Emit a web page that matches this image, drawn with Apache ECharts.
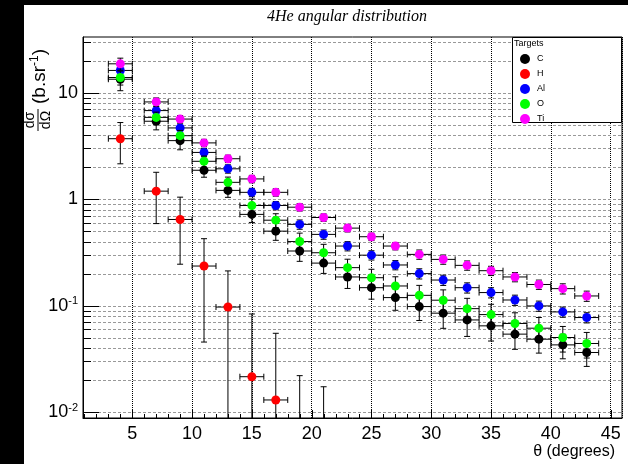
<!DOCTYPE html>
<html>
<head>
<meta charset="utf-8">
<script src="https://cdn.jsdelivr.net/npm/echarts@6/dist/echarts.min.js"></script>
<style>
html, body { margin: 0; padding: 0; background: #fff; overflow: hidden; }
#chart { width: 628px; height: 464px; }
</style>
</head>
<body>
<div id="chart"></div>
<script>
// bin centres in degrees (each bin is +-1 degree wide)
var angles = [4, 7, 9, 11, 13, 15, 17, 19, 21, 23, 25, 27, 29, 31, 33, 35, 37, 39, 41, 43];
var xHalfWidth = 1;

// dsigma/dOmega (b/sr), with relative errors
var cVals  = [13.4, 5.4, 3.55, 1.87, 1.21, 0.72, 0.501, 0.326, 0.251, 0.186, 0.1475, 0.119, 0.098, 0.085, 0.0734, 0.0646, 0.054, 0.0484, 0.0428, 0.0363];
var cErr   = [0.22, 0.17, 0.18, 0.14, 0.14, 0.16, 0.18, 0.2, 0.2, 0.22, 0.22, 0.24, 0.26, 0.28, 0.3, 0.28, 0.28, 0.26, 0.26, 0.26];
var alVals = [16.2, 6.8, 4.67, 2.75, 1.93, 1.16, 0.873, 0.58, 0.467, 0.363, 0.298, 0.241, 0.2, 0.174, 0.1475, 0.1327, 0.113, 0.0994, 0.0873, 0.0773];
var alErr  = [0.13, 0.1, 0.09, 0.09, 0.09, 0.09, 0.09, 0.1, 0.1, 0.1, 0.1, 0.1, 0.11, 0.11, 0.11, 0.11, 0.11, 0.11, 0.11, 0.11];
var oVals  = [13.9, 5.87, 3.95, 2.27, 1.44, 0.873, 0.635, 0.40, 0.314, 0.2275, 0.183, 0.153, 0.125, 0.1125, 0.0937, 0.0824, 0.068, 0.0614, 0.0502, 0.0441];
var oErr   = [0.15, 0.12, 0.12, 0.12, 0.12, 0.15, 0.15, 0.2, 0.2, 0.2, 0.2, 0.22, 0.24, 0.25, 0.25, 0.25, 0.26, 0.26, 0.27, 0.27];
var tiVals = [18.7, 8.2, 5.66, 3.38, 2.40, 1.55, 1.16, 0.841, 0.673, 0.535, 0.444, 0.363, 0.303, 0.272, 0.239, 0.213, 0.186, 0.158, 0.1445, 0.1233];
var tiErr  = [0.13, 0.09, 0.08, 0.08, 0.08, 0.08, 0.08, 0.08, 0.08, 0.08, 0.08, 0.08, 0.1, 0.1, 0.1, 0.1, 0.1, 0.1, 0.11, 0.11];

// hydrogen only has the first bins, absolute errors
var hAngles = [4, 7, 9, 11, 13, 15, 17, 19, 21];
var hVals   = [3.7, 1.19, 0.645, 0.2355, 0.097, 0.0215, 0.013, 0, 0];
var hErr    = [1.55, 0.6, 0.4, 0.19, 0.115, 0.062, 0.042, 0.022, 0.0173];

// ticks
var xTickVals = [1, 2, 3, 4, 5, 6, 7, 8, 9, 10, 11, 12, 13, 14, 15, 16, 17, 18, 19, 20, 21, 22, 23, 24, 25,
                 26, 27, 28, 29, 30, 31, 32, 33, 34, 35, 36, 37, 38, 39, 40, 41, 42, 43, 44, 45];
var xLabelVals = [5, 10, 15, 20, 25, 30, 35, 40, 45];
var yTickVals = [0.01, 0.02, 0.03, 0.04, 0.05, 0.06, 0.07, 0.08, 0.09,
                 0.1, 0.2, 0.3, 0.4, 0.5, 0.6, 0.7, 0.8, 0.9,
                 1, 2, 3, 4, 5, 6, 7, 8, 9,
                 10, 20, 30];
var yLabelVals = [0.01, 0.1, 1, 10];

var font = 'Liberation Sans, Arial, sans-serif';

function errorBarItem(xs, ys, errs, isRelative, color) {
    return function (params, api) {
        var i = params.dataIndex;
        var x = xs[i], y = ys[i];
        var e = isRelative ? y * errs[i] : errs[i];
        var hi = y + e;
        var hasLow = y - e > 0;
        var lo = hasLow ? y - e : 1e-4;
        var ls = { stroke: '#000', lineWidth: 1 };
        var pt = api.coord([x, hi]), pb = api.coord([x, lo]);
        var kids = [];
        kids.push({ type: 'line', shape: { x1: pt[0], y1: pt[1], x2: pb[0], y2: pb[1] }, style: ls });
        kids.push({ type: 'line', shape: { x1: pt[0] - 3, y1: pt[1], x2: pt[0] + 3, y2: pt[1] }, style: ls });
        if (hasLow) {
            kids.push({ type: 'line', shape: { x1: pb[0] - 3, y1: pb[1], x2: pb[0] + 3, y2: pb[1] }, style: ls });
        }
        if (y > 0) {
            var pl = api.coord([x - xHalfWidth, y]), pr = api.coord([x + xHalfWidth, y]);
            kids.push({ type: 'line', shape: { x1: pl[0], y1: pl[1], x2: pr[0], y2: pr[1] }, style: ls });
            kids.push({ type: 'line', shape: { x1: pl[0], y1: pl[1] - 3, x2: pl[0], y2: pl[1] + 3 }, style: ls });
            kids.push({ type: 'line', shape: { x1: pr[0], y1: pr[1] - 3, x2: pr[0], y2: pr[1] + 3 }, style: ls });
            var c = api.coord([x, y]);
            kids.push({ type: 'circle', shape: { cx: c[0], cy: c[1], r: 4.5 }, style: { fill: color } });
        }
        return { type: 'group', children: kids };
    };
}

function targetSeries(name, xs, ys, errs, isRelative, color) {
    return {
        name: name,
        type: 'custom',
        clip: true,
        z: 2,
        itemStyle: { color: color },
        data: xs.map(function (x, i) { return [x, ys[i] > 0 ? ys[i] : errs[i]]; }),
        renderItem: errorBarItem(xs, ys, errs, isRelative, color)
    };
}

function yLabel(v) {
    var p = Math.round(Math.log(v) / Math.LN10);
    if (Math.abs(Math.log(v) / Math.LN10 - p) > 1e-6) return '';
    if (p === 0) return '1';
    if (p === 1) return '10';
    return '10{sup|' + p + '}';
}

// horizontal grid lines and inside ticks, ROOT style
function frameDecor(params, api) {
    var cs = params.coordSys;
    var b = cs.y + cs.height;
    var kids = [];
    yTickVals.forEach(function (v) {
        var y = Math.round(api.coord([5, v])[1]) + 0.5;
        var major = yLabelVals.indexOf(v) >= 0;
        kids.push({ type: 'line', shape: { x1: cs.x, y1: y, x2: cs.x + cs.width, y2: y },
                    style: { stroke: '#999', lineWidth: 1, lineDash: [3, 2] } });
        kids.push({ type: 'line', shape: { x1: cs.x, y1: y, x2: cs.x + (major ? 16 : 8), y2: y },
                    style: { stroke: '#000', lineWidth: 1 } });
    });
    // bottom ticks as thin rects
    xTickVals.forEach(function (v) {
        var x = Math.round(api.coord([v, 1])[0]);
        var h = xLabelVals.indexOf(v) >= 0 ? 8 : 4;
        kids.push({ type: 'rect', shape: { x: x, y: b - h, width: 1, height: h },
                    style: { fill: '#000' } });
    });
    return { type: 'group', children: kids };
}

var chart = echarts.init(document.getElementById('chart'));
chart.setOption({
    backgroundColor: '#fff',
    animation: false,
    grid: {
        left: 83, top: 37, right: 6, bottom: 46,
        show: true, borderColor: '#000', borderWidth: 1,
        outerBoundsMode: 'none'
    },
    xAxis: {
        type: 'value',
        min: 0.88, max: 45.95,
        splitNumber: 9,
        axisLine: { show: true, lineStyle: { color: '#000', width: 1 } },
        axisTick: { show: false },
        axisLabel: {
            color: '#000', fontSize: 18, fontFamily: font, margin: 7,
            formatter: function (v) { return xLabelVals.indexOf(v) >= 0 ? String(v) : ''; }
        },
        splitLine: { show: true, lineStyle: { color: '#000', type: 'dotted', width: 1 } }
    },
    yAxis: {
        type: 'log', logBase: 10,
        min: 0.0088, max: 33.4,
        axisLine: { show: true, lineStyle: { color: '#000', width: 1 } },
        axisTick: { show: false },
        splitLine: { show: false },
        axisLabel: {
            color: '#000', fontSize: 18, fontFamily: font, margin: 5,
            formatter: yLabel,
            rich: {
                sup: { fontSize: 11, fontFamily: font, color: '#000', verticalAlign: 'top' }
            },
            lineHeight: 20
        }
    },
    legend: {
        orient: 'vertical',
        left: 512, top: 37,
        padding: [17, 5, 5, 8],
        itemGap: 5,
        itemWidth: 14, itemHeight: 10,
        z: 4,
        textStyle: { fontSize: 9, color: '#000', fontFamily: font },
        data: [
            { name: 'C', icon: 'circle' },
            { name: 'H', icon: 'circle' },
            { name: 'Al', icon: 'circle' },
            { name: 'O', icon: 'circle' },
            { name: 'Ti', icon: 'circle' }
        ]
    },
    graphic: [
        // black strips at the edges of the screenshot
        { type: 'rect', z: 10, shape: { x: 0, y: 0, width: 24, height: 464 }, style: { fill: '#000' } },
        { type: 'rect', z: 10, shape: { x: 0, y: 0, width: 628, height: 5 }, style: { fill: '#000' } },
        // legend box
        { type: 'rect', z: 3, shape: { x: 512.5, y: 37.5, width: 109, height: 85 },
          style: { fill: '#fff', stroke: '#000', lineWidth: 1 } },
        { type: 'text', z: 5, x: 514, y: 44,
          style: { text: 'Targets', font: '9px ' + font, fill: '#000', textVerticalAlign: 'middle' } },
        // title
        { type: 'text', z: 5, x: 347, y: 17,
          style: { text: '4He angular distribution', font: 'italic 16px Liberation Serif, serif',
                   fill: '#000', textAlign: 'center', textVerticalAlign: 'middle' } },
        // x title
        { type: 'text', z: 5, x: 615, y: 452,
          style: { text: 'θ (degrees)', font: '16px ' + font, fill: '#000',
                   textAlign: 'right', textVerticalAlign: 'middle' } },
        // y title, rotated to read bottom-up
        {
            type: 'group', x: 38, y: 131, rotation: Math.PI / 2, z: 5,
            children: [
                { type: 'line', shape: { x1: 0, y1: 0, x2: 22, y2: 0 }, style: { stroke: '#000', lineWidth: 1 } },
                { type: 'text', x: 11, y: -1,
                  style: { text: 'dσ', font: '14px ' + font, fill: '#000', textAlign: 'center', textVerticalAlign: 'bottom' } },
                { type: 'text', x: 11, y: 1,
                  style: { text: 'dΩ', font: '14px ' + font, fill: '#000', textAlign: 'center', textVerticalAlign: 'top' } },
                { type: 'text', x: 27, y: 2,
                  style: {
                      text: '(b.sr{sup|-1})', font: '19px ' + font, fill: '#000', textVerticalAlign: 'middle',
                      rich: { sup: { fontSize: 12, fontFamily: font, fill: '#000', verticalAlign: 'top' } },
                      lineHeight: 22
                  } }
            ]
        }
    ],
    series: [
        {
            type: 'custom', silent: true, z: 1, clip: false,
            data: [[5, 1]],
            renderItem: frameDecor
        },
        targetSeries('C', angles, cVals, cErr, true, '#000000'),
        targetSeries('H', hAngles, hVals, hErr, false, '#ff0000'),
        targetSeries('Al', angles, alVals, alErr, true, '#0000ff'),
        targetSeries('O', angles, oVals, oErr, true, '#00ff00'),
        targetSeries('Ti', angles, tiVals, tiErr, true, '#ff00ff')
    ]
});
</script>
</body>
</html>
